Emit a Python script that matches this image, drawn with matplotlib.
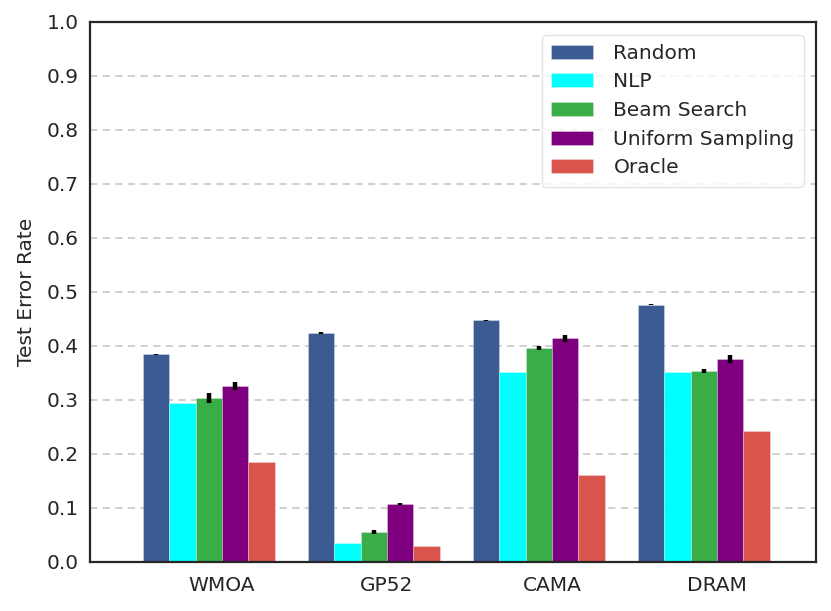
import numpy as np
import matplotlib
matplotlib.use("Agg")
import matplotlib.pyplot as plt

# Datos
datasets = ["WMOA", "GP52", "CAMA", "DRAM"]
metodos = ["Random", "NLP", "Beam Search", "Uniform Sampling", "Oracle"]

random_vals = [0.385, 0.424, 0.448, 0.476]
nlp_vals = [0.294, 0.035, 0.351, 0.352]
beam_vals = [0.304, 0.056, 0.396, 0.354]
uniform_vals = [0.326, 0.107, 0.414, 0.376]
oracle_vals = [0.185, 0.030, 0.161, 0.243]

random_err = [0.001, 0.001, 0.001, 0.001]
nlp_err = [0.0, 0.0, 0.0, 0.0]
beam_err = [0.009, 0.004, 0.004, 0.004]
uniform_err = [0.007, 0.002, 0.006, 0.008]
oracle_err = [0.0, 0.0, 0.0, 0.0]

colores = ["#3b5b92", "#00ffff", "#39ad48", "#7e007e", "#d9544d"]

valores = [random_vals, nlp_vals, beam_vals, uniform_vals, oracle_vals]
errores = [random_err, nlp_err, beam_err, uniform_err, oracle_err]

# Grafico
plt.rcParams['font.family'] = ['DejaVu Sans']
texto = '#262626'

fig = plt.figure(figsize=(8.31, 6.11), dpi=100)
ax = fig.add_axes([0.1083, 0.0802, 0.8737, 0.8838])

x = np.arange(len(datasets))
w = 0.16
for k, (vals, errs, col, nombre) in enumerate(zip(valores, errores, colores, metodos)):
    ax.bar(x + k * w, vals, width=w, color=col, label=nombre,
           edgecolor=(1, 1, 1, 0.5), linewidth=0.4, zorder=2,
           yerr=errs, error_kw=dict(ecolor='black', elinewidth=3.2, capsize=0, zorder=3))

ax.set_xlim(-0.4, 4.0)
ax.set_ylim(0, 1.0)
ax.set_xticks(x + 2.5 * w)
ax.set_xticklabels(datasets)
ax.set_yticks(np.arange(0, 1.01, 0.1))
ax.set_yticklabels([f"{v:.1f}" for v in np.arange(0, 1.01, 0.1)])
ax.tick_params(axis='both', labelsize=14.5, colors=texto, length=0)
ax.tick_params(axis='x', pad=10)
ax.tick_params(axis='y', pad=8)
ax.set_ylabel('Test Error Rate', fontsize=14.5, color=texto, labelpad=8)

ax.yaxis.grid(True, linestyle='--', linewidth=1.3, color='#cccccc', dashes=(4, 3), zorder=0)
ax.set_axisbelow(True)
for sp in ax.spines.values():
    sp.set_color(texto)
    sp.set_linewidth(1.6)

leg = ax.legend(loc='upper right', fontsize=14.5, handlelength=2.1, handleheight=0.7,
                labelspacing=0.48, borderpad=0.45, handletextpad=1.0, frameon=True, fancybox=True,
                bbox_to_anchor=(0.997, 0.995))
leg.get_frame().set_edgecolor('#dddddd')
for t in leg.get_texts():
    t.set_color(texto)

plt.savefig('out.png', dpi=100)
plt.close()
